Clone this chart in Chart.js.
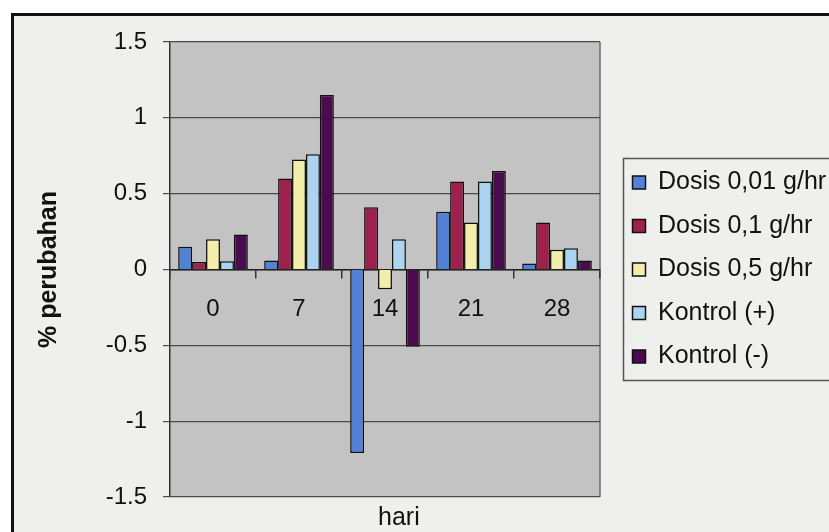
<!DOCTYPE html>
<html>
<head>
<meta charset="utf-8">
<script src="https://cdn.jsdelivr.net/npm/chart.js@4.4.1/dist/chart.umd.min.js"></script>
<style>
  html, body { margin: 0; padding: 0; width: 829px; height: 532px; overflow: hidden; background: #ffffff; }
  #frame { position: absolute; left: 11px; top: 13px; width: 900px; height: 600px; border: 3px solid #111; background: #efefed; }
  #wrap { position: absolute; left: 0; top: 0; }
</style>
</head>
<body>
<div id="frame"></div>
<div id="wrap"><canvas id="chart" width="842" height="560"></canvas></div>
<script>
// categories (hari) and series values
const days = ['0', '7', '14', '21', '28'];
const dosis001 = [0.15, 0.06, -1.21, 0.38, 0.04];
const dosis01 = [0.05, 0.60, 0.41, 0.58, 0.31];
const dosis05 = [0.20, 0.725, -0.13, 0.31, 0.13];
const kontrolPlus = [0.055, 0.76, 0.20, 0.58, 0.14];
const kontrolMinus = [0.23, 1.15, -0.51, 0.65, 0.06];
const yTicks = [-1.5, -1, -0.5, 0, 0.5, 1, 1.5];

const seriesNames = ['Dosis 0,01 g/hr', 'Dosis 0,1 g/hr', 'Dosis 0,5 g/hr', 'Kontrol (+)', 'Kontrol (-)'];
const seriesColors = ['#5282d6', '#9e204d', '#f3efaa', '#abd4f1', '#4a0c4f'];

Chart.defaults.font.family = "'Liberation Sans', Arial, sans-serif";
Chart.defaults.color = '#111';

// gray plot area + right border, like the old Excel charts
const plotBackground = {
    id: 'plotBackground',
    beforeDraw(chart) {
        const { ctx, chartArea: a } = chart;
        ctx.save();
        ctx.fillStyle = '#c3c3c3';
        ctx.fillRect(a.left, a.top, a.width, a.height);
        ctx.strokeStyle = '#6a6a6a';
        ctx.lineWidth = 1.5;
        ctx.beginPath();
        ctx.moveTo(a.right, a.top);
        ctx.lineTo(a.right, a.bottom);
        ctx.stroke();
        ctx.restore();
    }
};

// push the legend a bit away from the plot, let it run off the right edge,
// and draw a box round it
const legendGap = 14;
const legendFrame = {
    id: 'legendFrame',
    afterLayout(chart) {
        const lg = chart.legend;
        lg.left += legendGap;
        lg.right = chart.width + 20;
        lg.width = lg.right - lg.left;
    },
    afterDraw(chart) {
        const lg = chart.legend;
        const pad = lg.options.labels.padding;
        const colH = lg.columnSizes[0].height;
        const startY = (lg.top + pad + lg.bottom - colH) / 2;
        const x = lg.left + pad - 9;
        const top = startY - 11.5;
        const bottom = startY + colH - pad + 11.5;
        const ctx = chart.ctx;
        ctx.save();
        ctx.strokeStyle = '#555';
        ctx.lineWidth = 1.5;
        ctx.strokeRect(x, top, chart.width + 20 - x, bottom - top);
        ctx.restore();
    }
};

const values = [dosis001, dosis01, dosis05, kontrolPlus, kontrolMinus];

new Chart(document.getElementById('chart'), {
    type: 'bar',
    data: {
        labels: days,
        datasets: values.map((v, i) => ({
            label: seriesNames[i],
            data: v,
            backgroundColor: seriesColors[i],
            borderColor: '#111111',
            borderWidth: 1.5,
            categoryPercentage: 0.81,
            barPercentage: 1.0
        }))
    },
    options: {
        responsive: false,
        animation: false,
        devicePixelRatio: 1,
        layout: {
            padding: { left: 30, top: 42, right: 52, bottom: 27 }
        },
        scales: {
            x: {
                position: { y: 0 },
                grid: { drawOnChartArea: false, tickLength: 8, color: '#333', lineWidth: 1.5 },
                border: { color: '#222', width: 1.5 },
                ticks: { font: { size: 24 }, color: '#111', padding: 17 }
            },
            x2: {
                type: 'category',
                position: 'bottom',
                grid: { display: false },
                border: { display: false },
                ticks: { display: false },
                title: {
                    display: true,
                    text: '    hari',
                    font: { size: 25 },
                    color: '#111',
                    padding: { top: 6, bottom: 0 }
                },
                afterFit: s => { s.height = 36; }
            },
            y: {
                min: -1.5,
                max: 1.5,
                afterBuildTicks: s => { s.ticks = yTicks.map(v => ({ value: v })); },
                ticks: {
                    font: { size: 24 },
                    color: '#111',
                    padding: 16,
                    callback: v => String(v)
                },
                grid: { color: '#4a4a4a', lineWidth: 1.2, tickLength: 7 },
                border: { color: '#333', width: 1.5 },
                title: {
                    display: true,
                    text: '% perubahan',
                    font: { size: 25, weight: 'bold' },
                    color: '#111',
                    padding: { top: 4, bottom: 0 }
                },
                afterFit: s => { s.width = 140; }
            }
        },
        plugins: {
            legend: {
                position: 'right',
                fullSize: false,
                labels: {
                    boxWidth: 13,
                    boxHeight: 13,
                    padding: 18.5,
                    color: '#111',
                    font: { size: 25 }
                }
            },
            tooltip: { enabled: false }
        }
    },
    plugins: [plotBackground, legendFrame]
});
</script>
</body>
</html>
